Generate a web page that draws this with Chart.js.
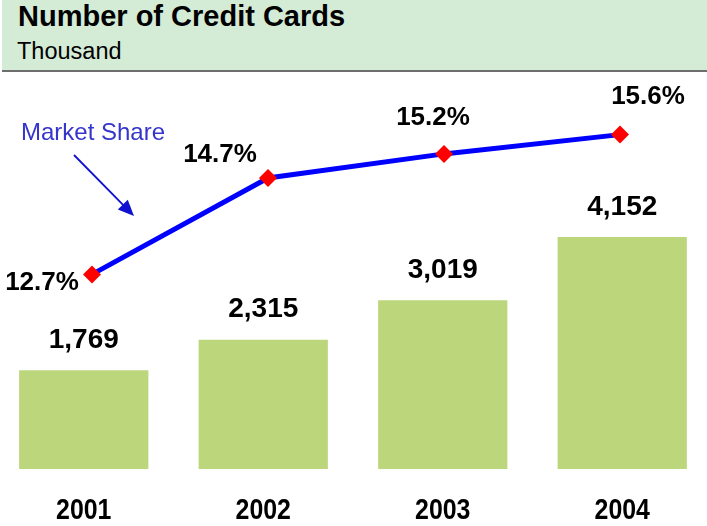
<!DOCTYPE html>
<html><head><meta charset="utf-8">
<script src="https://cdn.jsdelivr.net/npm/chart.js@4/dist/chart.umd.min.js"></script>
<style>
html,body{margin:0;padding:0;width:707px;height:526px;overflow:hidden;background:#fff;position:relative;}
#hdr{position:absolute;left:2px;top:0;width:705px;height:70px;background:#d4ebd6;border-bottom:2px solid #6e6e6e;font-family:"Liberation Sans",Arial,sans-serif;color:#000;}
#t{position:absolute;left:16px;top:2px;font-size:29px;line-height:1;font-weight:bold;white-space:nowrap;}
#s{position:absolute;left:15px;top:40px;font-size:23.5px;line-height:1;white-space:nowrap;}
#wrap{position:absolute;left:-6px;top:72px;width:718px;height:454px;}
</style></head>
<body>
<div id="hdr"><div id="t">Number of Credit Cards</div><div id="s">Thousand</div></div>
<div id="wrap"><canvas id="c" width="718" height="454"></canvas></div>
<script>
const years = ['2001', '2002', '2003', '2004'];
const cardCounts = [1769, 2315, 3019, 4152];
const marketShare = [12.7, 14.7, 15.2, 15.6];
const shareLabel = 'Market Share';

const FONT = '"Liberation Sans", Arial, sans-serif';

const labelPlugin = {
  id: 'valueLabels',
  afterDatasetsDraw(chart) {
    const ctx = chart.ctx;
    ctx.save();
    ctx.fillStyle = '#000';
    ctx.textAlign = 'center';
    ctx.textBaseline = 'middle';
    ctx.font = 'bold 28px ' + FONT;
    chart.getDatasetMeta(1).data.forEach((el, i) => {
      ctx.fillText(cardCounts[i].toLocaleString('en-US'), el.x, el.y - 30);
    });
    const offs = [[-50, 8], [-48, -23], [-11, -36], [28, -38]];
    ctx.font = 'bold 26px ' + FONT;
    chart.getDatasetMeta(0).data.forEach((el, i) => {
      ctx.fillText(marketShare[i].toFixed(1) + '%', el.x + offs[i][0], el.y + offs[i][1]);
    });
    // condensed year labels under the x scale ticks
    const xs = chart.scales.x;
    ctx.font = 'bold 30px ' + FONT;
    years.forEach((lab, i) => {
      ctx.save();
      ctx.translate(xs.getPixelForTick(i), chart.chartArea.bottom + 42);
      ctx.scale(0.83, 1);
      ctx.fillText(xs.getLabelForValue(i), 0, 0);
      ctx.restore();
    });
    // annotation
    ctx.fillStyle = '#3535cc';
    ctx.font = '24px ' + FONT;
    ctx.fillText(shareLabel, 99, 61);
    const x1 = 80, y1 = 83, x2 = 140, y2 = 144;
    const ang = Math.atan2(y2 - y1, x2 - x1);
    const hl = 16, hw = 7;
    ctx.strokeStyle = '#1010d0';
    ctx.lineWidth = 1.8;
    ctx.beginPath();
    ctx.moveTo(x1, y1);
    ctx.lineTo(x2 - Math.cos(ang) * hl * 0.8, y2 - Math.sin(ang) * hl * 0.8);
    ctx.stroke();
    ctx.fillStyle = '#1010d0';
    ctx.beginPath();
    ctx.moveTo(x2, y2);
    ctx.lineTo(x2 - Math.cos(ang) * hl - Math.sin(ang) * hw, y2 - Math.sin(ang) * hl + Math.cos(ang) * hw);
    ctx.lineTo(x2 - Math.cos(ang) * hl + Math.sin(ang) * hw, y2 - Math.sin(ang) * hl - Math.cos(ang) * hw);
    ctx.closePath();
    ctx.fill();
    ctx.restore();
  }
};

new Chart(document.getElementById('c'), {
  type: 'bar',
  data: {
    labels: years,
    datasets: [
      {
        type: 'line',
        label: shareLabel,
        data: marketShare.map((v, i) => ({ x: i, y: v })),
        xAxisID: 'x2',
        yAxisID: 'y1',
        borderColor: '#0000ff',
        borderWidth: 5,
        pointStyle: 'rectRot',
        pointRadius: 9,
        pointBackgroundColor: '#ff0000',
        pointBorderWidth: 0,
        pointBorderColor: '#ff0000',
        tension: 0,
        clip: false,
        order: 0
      },
      {
        type: 'bar',
        label: 'Number of Credit Cards',
        data: cardCounts,
        xAxisID: 'x',
        yAxisID: 'y',
        backgroundColor: '#bcd67c',
        barPercentage: 0.72,
        categoryPercentage: 1,
        grouped: false,
        order: 1
      }
    ]
  },
  options: {
    responsive: false,
    animation: false,
    devicePixelRatio: 1,
    layout: { autoPadding: false, padding: { left: 0, right: 0, top: 0, bottom: 57 } },
    plugins: { legend: { display: false }, tooltip: { enabled: false }, title: { display: false } },
    scales: {
      x: {
        type: 'category',
        offset: true,
        grid: { display: false, drawTicks: false },
        border: { display: false },
        ticks: { display: false }
      },
      x2: { type: 'linear', display: false, offset: false, bounds: 'data', min: -0.5568, max: 3.5227, grid: { offset: false } },
      y: { display: false, min: 0, max: 7106 },
      y1: { display: false, min: 8.663, max: 16.899 }
    }
  },
  plugins: [labelPlugin]
});
</script>
</body></html>
